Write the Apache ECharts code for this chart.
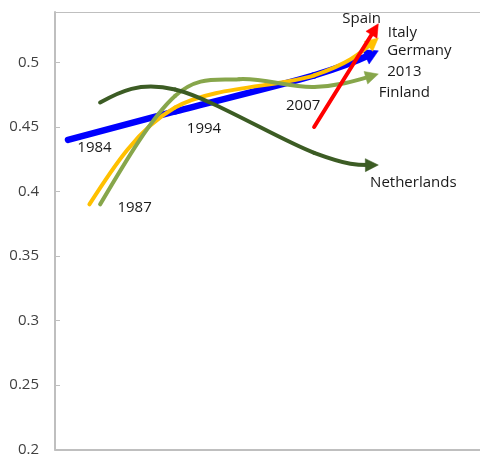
<!DOCTYPE html>
<html>
<head>
<meta charset="utf-8">
<script src="https://cdn.jsdelivr.net/npm/echarts/dist/echarts.min.js"></script>
<style>
  html, body { margin: 0; padding: 0; background: #ffffff; }
  #chart { width: 480px; height: 458px; }
</style>
</head>
<body>
<div id="chart"></div>
<script>
// Country trajectories: survey year -> index value
const germanyYears = [1984, 1994, 2007, 2013];
const germanyValues = [0.44, 0.462, 0.49, 0.509];
const italyYears = [1986, 1994, 2007, 2013];
const italyValues = [0.39, 0.465, 0.49, 0.519];
const finlandYears = [1987, 1994, 2000, 2007, 2013];
const finlandValues = [0.39, 0.474, 0.487, 0.481, 0.491];
const netherlandsYears = [1987, 1994, 2007, 2013];
const netherlandsValues = [0.469, 0.479, 0.43, 0.4205];
const spainYears = [2007, 2013];
const spainValues = [0.45, 0.53];

// Text shown next to the curves
const countryNames = ['Germany', 'Italy', 'Finland', 'Netherlands', 'Spain'];
const yearTags = ['1984', '1987', '1994', '2007', '2013'];

const TENSION = 1 / 6;      // Bezier handle length relative to neighbour chord
const FONT = 'Open Sans';
const TEXT_COLOR = '#1a1a1a';
const AXIS_COLOR = '#BFBFBF';

// per series: style, arrowhead size [width, length], labels [point index, text, pixel offset]
const defs = [
  { name: countryNames[0], years: germanyYears, values: germanyValues, color: '#0000FF', width: 6.5, z: 2,
    arrow: [16, 14],
    labels: [[0, yearTags[0], [26.5, 8]], [1, yearTags[2], [29, 17.5]], [3, countryNames[0], [41, 0]]] },
  { name: countryNames[1], years: italyYears, values: italyValues, color: '#FFC000', width: 4, z: 3,
    arrow: [13, 13],
    labels: [[3, countryNames[1], [24, -5]]] },
  { name: countryNames[2], years: finlandYears, values: finlandValues, color: '#87A64B', width: 4, z: 4,
    arrow: [13, 13],
    labels: [[0, yearTags[1], [34.5, 3]], [4, yearTags[4] + '\n' + countryNames[2], [26, 8]]] },
  { name: countryNames[3], years: netherlandsYears, values: netherlandsValues, color: '#3C5C24', width: 4, z: 5,
    arrow: [13, 13],
    labels: [[3, countryNames[3], [35, 17.5]]] },
  { name: countryNames[4], years: spainYears, values: spainValues, color: '#FF0000', width: 4, z: 6,
    arrow: [13, 13],
    labels: [[0, yearTags[3], [-11, -21]], [1, countryNames[4], [-16.7, -4.8]]] }
];

// Control points of the smoothed segment P[i] -> P[i+1]
function segmentControls(P, i) {
  const n = P.length;
  const a = P[i], b = P[i + 1];
  if (n === 2) {
    return [[a[0] + (b[0] - a[0]) / 3, a[1] + (b[1] - a[1]) / 3],
            [a[0] + 2 * (b[0] - a[0]) / 3, a[1] + 2 * (b[1] - a[1]) / 3]];
  }
  let c1 = null, c2 = null;
  if (i > 0) {
    const p = P[i - 1];
    c1 = [a[0] + (b[0] - p[0]) * TENSION, a[1] + (b[1] - p[1]) * TENSION];
  }
  if (i + 2 < n) {
    const q = P[i + 2];
    c2 = [b[0] - (q[0] - a[0]) * TENSION, b[1] - (q[1] - a[1]) * TENSION];
  }
  // free ends: zero curvature at the first and last point
  if (!c1) c1 = [(a[0] + c2[0]) / 2, (a[1] + c2[1]) / 2];
  if (!c2) c2 = [(b[0] + c1[0]) / 2, (b[1] + c1[1]) / 2];
  return [c1, c2];
}

function curveSeries(d) {
  const n = d.years.length;
  return {
    type: 'custom',
    name: d.name,
    coordinateSystem: 'cartesian2d',
    z: d.z,
    silent: true,
    animation: false,
    clip: false,
    data: d.years.map((yr, i) => [yr, d.values[i]]),
    encode: { x: 0, y: 1 },
    renderItem: function (params, api) {
      const i = params.dataIndex;
      const P = d.years.map((yr, j) => api.coord([yr, d.values[j]]));
      const children = [];
      if (i < n - 1) {
        const cps = segmentControls(P, i);
        let end = P[i + 1], c2 = cps[1];
        if (i === n - 2) {
          // stop the stroke inside the arrowhead
          const dx = end[0] - c2[0], dy = end[1] - c2[1];
          const len = Math.hypot(dx, dy) || 1;
          const back = d.arrow[1] * 0.7;
          end = [end[0] - dx / len * back, end[1] - dy / len * back];
          c2 = [c2[0] - dx / len * back * 0.5, c2[1] - dy / len * back * 0.5];
        }
        children.push({
          type: 'bezierCurve',
          shape: { x1: P[i][0], y1: P[i][1], x2: end[0], y2: end[1],
                   cpx1: cps[0][0], cpy1: cps[0][1], cpx2: c2[0], cpy2: c2[1] },
          style: { stroke: d.color, lineWidth: d.width, fill: 'none', lineCap: 'round', lineJoin: 'round' }
        });
      } else {
        const cps = segmentControls(P, n - 2);
        const tip = P[n - 1];
        const dx = tip[0] - cps[1][0], dy = tip[1] - cps[1][1];
        const len = Math.hypot(dx, dy) || 1;
        const ux = dx / len, uy = dy / len;
        const w = d.arrow[0], h = d.arrow[1];
        const bx = tip[0] - ux * h, by = tip[1] - uy * h;
        children.push({
          type: 'polygon',
          shape: { points: [tip, [bx - uy * w / 2, by + ux * w / 2], [bx + uy * w / 2, by - ux * w / 2]] },
          style: { fill: d.color, stroke: d.color, lineWidth: 0.5 }
        });
      }
      d.labels.forEach(l => {
        if (l[0] !== i) return;
        children.push({
          type: 'text',
          z2: 10,
          style: {
            text: l[1],
            x: P[i][0] + l[2][0],
            y: P[i][1] + l[2][1],
            fill: TEXT_COLOR,
            fontFamily: FONT,
            fontSize: 15,
            lineHeight: 21,
            align: 'center',
            verticalAlign: 'middle',
            textAlign: 'center',
            textVerticalAlign: 'middle'
          }
        });
      });
      return { type: 'group', children: children };
    }
  };
}

const chart = echarts.init(document.getElementById('chart'), null, { renderer: 'canvas' });

chart.setOption({
  animation: false,
  backgroundColor: '#ffffff',
  grid: { left: 55, right: 0, top: 12, bottom: 8.5, containLabel: false, outerBoundsMode: 'none' },
  xAxis: [
    {
      type: 'value', position: 'bottom', min: 1982.785, max: 2022.5,
      axisLine: { show: true, lineStyle: { color: AXIS_COLOR, width: 2 } },
      axisTick: { show: false }, axisLabel: { show: false }, splitLine: { show: false }
    },
    {
      type: 'value', position: 'top', min: 1982.785, max: 2022.5,
      axisLine: { show: true, onZero: false, lineStyle: { color: AXIS_COLOR, width: 1 } },
      axisTick: { show: false }, axisLabel: { show: false }, splitLine: { show: false }
    }
  ],
  yAxis: {
    type: 'value', min: 0.2, max: 0.5391, interval: 0.05,
    axisLine: { show: true, lineStyle: { color: AXIS_COLOR, width: 2 } },
    axisTick: { show: true, inside: true, length: 5, lineStyle: { color: AXIS_COLOR, width: 1 } },
    axisLabel: { color: '#404040', fontFamily: FONT, fontSize: 15, margin: 16, showMaxLabel: false },
    splitLine: { show: false }
  },
  series: defs.map(curveSeries)
});
</script>
</body>
</html>
